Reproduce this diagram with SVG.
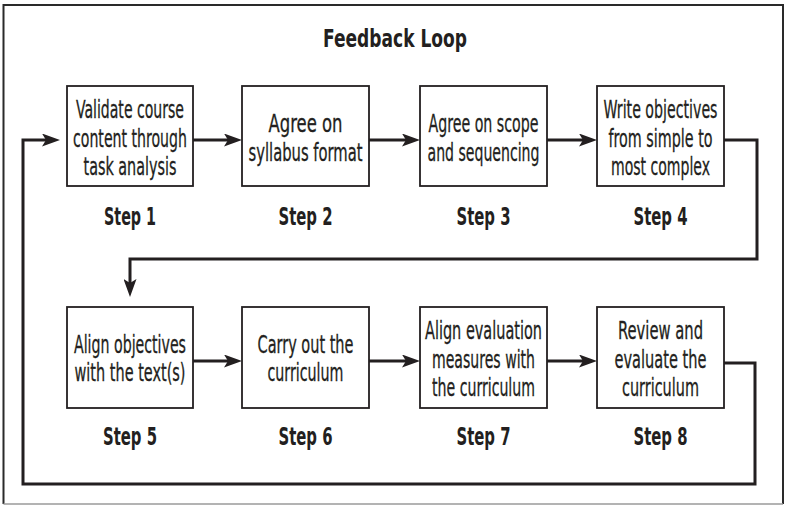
<svg xmlns="http://www.w3.org/2000/svg" width="785" height="506" viewBox="0 0 785 506">
<style>
  .box { fill: #ffffff; stroke: #231f20; stroke-width: 1.8; }
  .t { font-family: 'DejaVu Sans Condensed', 'DejaVu Sans', sans-serif; font-stretch: condensed; font-size: 24px; fill: #231f20; stroke: #231f20; stroke-width: 0.3; text-anchor: middle; }
  .step { font-family: 'DejaVu Sans Condensed', 'DejaVu Sans', sans-serif; font-stretch: condensed; font-size: 24px; font-weight: bold; fill: #231f20; text-anchor: middle; }
  .title { font-family: 'DejaVu Sans Condensed', 'DejaVu Sans', sans-serif; font-stretch: condensed; font-size: 25px; font-weight: bold; fill: #231f20; text-anchor: middle; }
  .conn { fill: none; stroke: #231f20; stroke-width: 3; marker-end: url(#arr); }
</style>
<defs>
  <marker id="arr" viewBox="0 0 18 13" markerWidth="18" markerHeight="13" refX="10" refY="6.5" orient="auto" markerUnits="userSpaceOnUse">
    <path d="M0,0 L18,6.5 L0,13 L4,6.5 Z" fill="#231f20"/>
  </marker>
</defs>
<rect x="0" y="0" width="785" height="506" fill="#ffffff"/>
<g id="frame">
  <path d="M3.5,504 V5 H783 V504" fill="none" stroke="#2a2a2a" stroke-width="2"/>
  <path d="M3.5,504 H783" fill="none" stroke="#9a9a9a" stroke-width="1.5"/>
</g>
<text id="title" class="title" x="395" y="47" textLength="144" lengthAdjust="spacingAndGlyphs">Feedback Loop</text>

<g id="connectors">
  <path class="conn" d="M193,140 H234"/>
  <path class="conn" d="M369,140 H412"/>
  <path class="conn" d="M547,140 H589"/>
  <path class="conn" d="M724,140 H757 V259 H130 V289"/>
  <path class="conn" d="M193,361 H234"/>
  <path class="conn" d="M369,361 H412"/>
  <path class="conn" d="M547,361 H589"/>
  <path class="conn" d="M724,363 H755 V484 H23 V140 H52"/>
</g>

<g id="step1">
  <rect class="box" x="67" y="86" width="126" height="100"/>
  <text class="t" x="130" y="118" textLength="108" lengthAdjust="spacingAndGlyphs">Validate course</text>
  <text class="t" x="130" y="147" textLength="114" lengthAdjust="spacingAndGlyphs">content through</text>
  <text class="t" x="130" y="175" textLength="93" lengthAdjust="spacingAndGlyphs">task analysis</text>
  <text class="step" x="130" y="225" textLength="52" lengthAdjust="spacingAndGlyphs">Step 1</text>
</g>
<g id="step2">
  <rect class="box" x="242" y="86" width="127" height="100"/>
  <text class="t" x="305.5" y="132" textLength="74" lengthAdjust="spacingAndGlyphs">Agree on</text>
  <text class="t" x="305.5" y="161" textLength="114" lengthAdjust="spacingAndGlyphs">syllabus format</text>
  <text class="step" x="305.5" y="225" textLength="54" lengthAdjust="spacingAndGlyphs">Step 2</text>
</g>
<g id="step3">
  <rect class="box" x="420" y="86" width="127" height="100"/>
  <text class="t" x="483.5" y="132" textLength="110" lengthAdjust="spacingAndGlyphs">Agree on scope</text>
  <text class="t" x="483.5" y="161" textLength="112" lengthAdjust="spacingAndGlyphs">and sequencing</text>
  <text class="step" x="483.5" y="225" textLength="54" lengthAdjust="spacingAndGlyphs">Step 3</text>
</g>
<g id="step4">
  <rect class="box" x="597" y="86" width="127" height="100"/>
  <text class="t" x="660.5" y="118" textLength="114" lengthAdjust="spacingAndGlyphs">Write objectives</text>
  <text class="t" x="660.5" y="147" textLength="104" lengthAdjust="spacingAndGlyphs">from simple to</text>
  <text class="t" x="660.5" y="175" textLength="99" lengthAdjust="spacingAndGlyphs">most complex</text>
  <text class="step" x="660.5" y="225" textLength="54" lengthAdjust="spacingAndGlyphs">Step 4</text>
</g>
<g id="step5">
  <rect class="box" x="67" y="307" width="126" height="101"/>
  <text class="t" x="130" y="353" textLength="112" lengthAdjust="spacingAndGlyphs">Align objectives</text>
  <text class="t" x="130" y="381" textLength="111" lengthAdjust="spacingAndGlyphs">with the text(s)</text>
  <text class="step" x="130" y="445" textLength="54" lengthAdjust="spacingAndGlyphs">Step 5</text>
</g>
<g id="step6">
  <rect class="box" x="242" y="307" width="127" height="101"/>
  <text class="t" x="305.5" y="353" textLength="96" lengthAdjust="spacingAndGlyphs">Carry out the</text>
  <text class="t" x="305.5" y="381" textLength="76" lengthAdjust="spacingAndGlyphs">curriculum</text>
  <text class="step" x="305.5" y="445" textLength="54" lengthAdjust="spacingAndGlyphs">Step 6</text>
</g>
<g id="step7">
  <rect class="box" x="420" y="307" width="127" height="101"/>
  <text class="t" x="483.5" y="339" textLength="117" lengthAdjust="spacingAndGlyphs">Align evaluation</text>
  <text class="t" x="483.5" y="368" textLength="103" lengthAdjust="spacingAndGlyphs">measures with</text>
  <text class="t" x="483.5" y="396" textLength="103" lengthAdjust="spacingAndGlyphs">the curriculum</text>
  <text class="step" x="483.5" y="445" textLength="54" lengthAdjust="spacingAndGlyphs">Step 7</text>
</g>
<g id="step8">
  <rect class="box" x="597" y="307" width="127" height="101"/>
  <text class="t" x="660.5" y="339" textLength="85" lengthAdjust="spacingAndGlyphs">Review and</text>
  <text class="t" x="660.5" y="368" textLength="92" lengthAdjust="spacingAndGlyphs">evaluate the</text>
  <text class="t" x="660.5" y="396" textLength="77" lengthAdjust="spacingAndGlyphs">curriculum</text>
  <text class="step" x="660.5" y="445" textLength="54" lengthAdjust="spacingAndGlyphs">Step 8</text>
</g>
</svg>
